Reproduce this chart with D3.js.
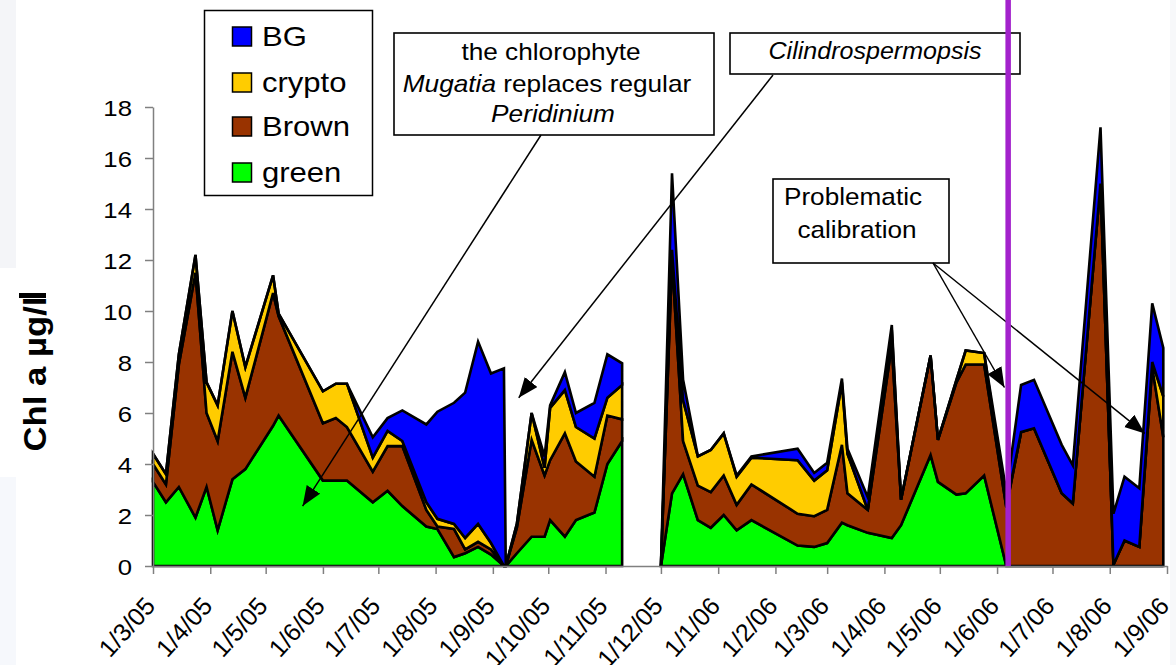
<!DOCTYPE html>
<html>
<head>
<meta charset="utf-8">
<script src="https://cdn.jsdelivr.net/npm/d3@7"></script>
<style>
  body { margin: 0; background: #fff; }
  svg { display: block; font-family: "Liberation Sans", Arial, sans-serif; }
</style>
</head>
<body>
<script>
'use strict';

// sample dates (d/m/y in the source sheet); "2005-11-20" is an unsampled gap
const sampleDates = [
  "2005-03-01", "2005-03-08", "2005-03-15", "2005-03-24", "2005-03-30", "2005-04-05",
  "2005-04-13", "2005-04-20", "2005-05-05", "2005-05-08", "2005-06-01", "2005-06-08",
  "2005-06-14", "2005-06-28", "2005-07-06", "2005-07-14", "2005-07-27", "2005-08-02",
  "2005-08-11", "2005-08-17", "2005-08-24", "2005-08-31", "2005-09-07", "2005-09-08",
  "2005-09-14", "2005-09-22", "2005-09-29", "2005-10-02", "2005-10-10", "2005-10-16",
  "2005-10-26", "2005-11-02", "2005-11-10", "2005-11-20", "2005-12-01", "2005-12-07",
  "2005-12-13", "2005-12-21", "2005-12-28", "2006-01-04", "2006-01-11", "2006-01-19",
  "2006-02-13", "2006-02-22", "2006-03-01", "2006-03-09", "2006-03-12", "2006-03-23",
  "2006-04-05", "2006-04-10", "2006-04-26", "2006-04-30", "2006-05-10", "2006-05-15",
  "2006-05-25", "2006-06-06", "2006-06-14", "2006-06-21", "2006-07-06", "2006-07-12",
  "2006-07-27", "2006-08-03", "2006-08-09", "2006-08-17", "2006-08-24", "2006-08-30"
];

// Chl a (ug/l) per algal group, null = no sample
const green = [
  3.3, 2.5, 3.1, 1.9, 3.1, 1.4, 3.4, 3.8, 5.5, 5.9, 3.35, 3.35,
  3.35, 2.5, 2.95, 2.35, 1.55, 1.45, 0.35, 0.5, 0.75, 0.45, 0, 0,
  0.5, 1.15, 1.15, 1.8, 1.15, 1.8, 2.1, 4.0, 4.9, null, 0, 2.85,
  3.6, 1.8, 1.5, 2.0, 1.4, 1.8, 0.8, 0.75, 0.9, 1.7, 1.6, 1.3,
  1.1, 1.6, 4.35, 3.3, 2.8, 2.85, 3.55, 0, 0, 0, 0, 0,
  0, 0, 0, 0, 0, 0
];
const brown = [
  0.7, 0.7, 4.8, 9.6, 2.9, 3.5, 5.0, 2.8, 5.2, 3.9, 2.25, 2.45,
  2.1, 1.2, 1.75, 2.35, 0.65, 0.1, 1.1, 0.15, 0.2, 0.2, 0, 0,
  1.0, 3.8, 2.4, 2.35, 4.05, 2.3, 1.4, 1.9, 0.85, null, 0, 9.15,
  1.3, 1.35, 1.4, 1.55, 1.0, 1.4, 1.25, 1.2, 1.3, 3.05, 1.25, 0.9,
  7.55, 1.0, 3.9, 1.65, 4.4, 5.05, 4.35, 2.3, 5.25, 5.4, 2.85, 2.45,
  15.0, 0.05, 1.0, 0.75, 7.8, 5.05
];
const crypto = [
  0.4, 0.4, 0.4, 0.7, 1.2, 1.4, 1.6, 1.2, 0.7, 0.1, 1.25, 1.35,
  1.7, 0.55, 0.6, 0.2, 0.3, 0.3, 0.2, 0.45, 0.7, 0.25, 0, 0,
  0.15, 1.05, 0.3, 2.05, 1.7, 1.35, 1.5, 0.7, 1.35, null, 0, 0.4,
  1.6, 1.15, 1.65, 1.65, 1.1, 1.05, 2.1, 1.4, 1.55, 2.45, 1.55, 0,
  0.6, 0, 0, 0, 0.1, 0.55, 0.45, 0.1, 0, 0, 0, 0,
  0, 0, 0, 0, 0.2, 1.6
];
const bgValues = [
  0, 0, 0, 0, 0, 0, 0, 0, 0, 0, 0, 0,
  0, 0.8, 0.5, 1.2, 3.05, 4.2, 4.75, 5.7, 7.15, 6.65, 7.75, 0,
  0, 0, 0.45, 0.1, 0.7, 0.55, 1.4, 1.7, 0.85, null, 0, 3.0,
  0.8, 0, 0, 0, 0.05, 0.05, 0.45, 0.3, 0.3, 0.15, 0.2, 0.5,
  0.2, 0, 0, 0, 0, 0, 0, 0.5, 1.85, 1.9, 1.9, 1.5,
  2.2, 2.0, 2.5, 2.3, 2.3, 1.9
];

const yTicks = [0, 2, 4, 6, 8, 10, 12, 14, 16, 18];
const legendNames = ["BG", "crypto", "Brown", "green"];
const noteMugatia = ["the chlorophyte", "Mugatia", " replaces regular", "Peridinium"];
const noteCilindro = "Cilindrospermopsis";
const noteCalib = ["Problematic", "calibration"];
const calibrationDate = "2006-06-07";

const colors = { green: "#00ff00", brown: "#993300", crypto: "#ffcc00", bg: "#0000ff" };

(function () {
  const parse = d3.timeParse("%Y-%m-%d");
  const rows = sampleDates.map((d, i) => ({
    date: parse(d),
    sampled: green[i] !== null,
    green: green[i] || 0, brown: brown[i] || 0, crypto: crypto[i] || 0, bg: bgValues[i] || 0
  }));

  const svg = d3.select("body").append("svg")
    .attr("width", 1176)
    .attr("height", 665);

  // faint slide background remnants
  svg.append("rect").attr("x", 0).attr("y", 0).attr("width", 16).attr("height", 268).attr("fill", "#f4f5f8");
  svg.append("rect").attr("x", 0).attr("y", 477).attr("width", 16).attr("height", 188).attr("fill", "#f6f8fc");
  svg.append("rect").attr("x", 1170).attr("y", 0).attr("width", 6).attr("height", 665).attr("fill", "#f7f8fa");
  svg.append("rect").attr("x", 19).attr("y", 293).attr("width", 27).attr("height", 5).attr("fill", "#000");

  const x = d3.scaleTime()
    .domain([parse("2005-03-01"), parse("2006-09-01")])
    .range([153, 1167]);
  const y = d3.scaleLinear()
    .domain([0, 18])
    .range([566, 107]);

  // stacked areas, broken where there was no sample
  const stack = d3.stack().keys(["green", "brown", "crypto", "bg"]);
  const layers = stack(rows);
  const area = d3.area()
    .defined(d => d.data.sampled)
    .x(d => x(d.data.date))
    .y0(d => y(d[0]))
    .y1(d => y(d[1]));

  svg.append("g").selectAll("path")
    .data(layers)
    .enter()
    .append("path")
    .attr("d", area)
    .attr("fill", d => colors[d.key])
    .attr("stroke", "#000")
    .attr("stroke-width", 2.6)
    .attr("stroke-linejoin", "miter");

  // y axis
  const yAxis = d3.axisLeft(y).tickValues(yTicks).tickSize(8).tickSizeOuter(0).tickFormat(d3.format("d"));
  const gy = svg.append("g").attr("transform", "translate(153,0)").call(yAxis);
  gy.attr("font-family", null).attr("font-size", null);
  gy.select(".domain").attr("stroke", "#808080").attr("stroke-width", 1.5);
  gy.selectAll(".tick line").attr("stroke", "#808080").attr("stroke-width", 1.5);
  gy.selectAll(".tick text")
    .attr("x", null).attr("dy", null)
    .attr("transform", "translate(-21,8) scale(1.12,1)")
    .attr("text-anchor", "end")
    .attr("font-size", 23)
    .attr("fill", "#000");

  // x axis, monthly ticks
  const months = d3.timeMonth.range(parse("2005-03-01"), parse("2006-09-02"));
  const xAxis = d3.axisBottom(x).tickValues(months).tickSize(8).tickSizeOuter(0)
    .tickFormat(d3.timeFormat("%-d/%-m/%y"));
  const gx = svg.append("g").attr("transform", "translate(0,566)").call(xAxis);
  gx.attr("font-family", null).attr("font-size", null);
  gx.select(".domain").attr("stroke", "#808080").attr("stroke-width", 1.5);
  gx.selectAll(".tick line").attr("stroke", "#808080").attr("stroke-width", 1.5);
  gx.selectAll(".tick text")
    .attr("y", null).attr("dy", null)
    .attr("transform", "translate(3,41) rotate(-48)")
    .attr("text-anchor", "end")
    .attr("font-size", 25)
    .attr("fill", "#000");

  // y label
  svg.append("text")
    .attr("transform", "translate(46,374) rotate(-90) scale(1.12,1)")
    .attr("text-anchor", "middle")
    .attr("font-size", 31)
    .attr("font-weight", "bold")
    .text("Chl a \u00b5g/l");

  // legend
  const legend = svg.append("g");
  legend.append("rect")
    .attr("x", 204.5).attr("y", 10.5).attr("width", 168).attr("height", 185)
    .attr("fill", "#fff").attr("stroke", "#000").attr("stroke-width", 1.5);
  const legendKeys = ["bg", "crypto", "brown", "green"];
  const legendTops = [27, 73, 117, 163];
  legendNames.forEach((name, i) => {
    legend.append("rect")
      .attr("x", 232.5).attr("y", legendTops[i]).attr("width", 19).attr("height", 19)
      .attr("fill", colors[legendKeys[i]]).attr("stroke", "#000").attr("stroke-width", 1.5);
    legend.append("text")
      .attr("transform", "translate(262," + (legendTops[i] + 19) + ") scale(1.15,1)")
      .attr("font-size", 27)
      .text(name);
  });

  // annotation boxes
  function box(x0, y0, w, h) {
    svg.append("rect")
      .attr("x", x0).attr("y", y0).attr("width", w).attr("height", h)
      .attr("fill", "#fff").attr("stroke", "#000").attr("stroke-width", 1.6);
  }
  function label(cx, by, size, sx, italic) {
    return svg.append("text")
      .attr("transform", "translate(" + cx + "," + by + ") scale(" + sx + ",1)")
      .attr("text-anchor", "middle")
      .attr("font-size", size)
      .attr("font-style", italic ? "italic" : null);
  }

  box(394, 33, 320, 102);
  label(551, 60, 23, 1.14, false).text(noteMugatia[0]);
  const l2 = label(547, 91.5, 23, 1.14, false);
  l2.append("tspan").attr("font-style", "italic").text(noteMugatia[1]);
  l2.append("tspan").text(noteMugatia[2]);
  label(553, 121.5, 23, 1.14, true).text(noteMugatia[3]);

  box(730, 33, 290, 41);
  label(875, 58.5, 23, 1.09, true).text(noteCilindro);

  box(773, 179, 176, 84);
  label(853, 205, 24, 1.09, false).text(noteCalib[0]);
  label(857, 238, 24, 1.09, false).text(noteCalib[1]);

  // arrows
  const defs = svg.append("defs");
  defs.append("marker")
    .attr("id", "head")
    .attr("markerUnits", "userSpaceOnUse")
    .attr("markerWidth", 24).attr("markerHeight", 20)
    .attr("refX", 20).attr("refY", 8)
    .attr("orient", "auto")
    .append("path")
    .attr("d", "M0,0 L20,8 L0,16 Z")
    .attr("fill", "#000");

  const arrows = [
    { from: [541, 135], to: ["2005-05-21", 2.35] },
    { from: [773, 75], to: ["2005-09-15", 6.6] },
    { from: [933, 263], to: ["2006-06-05", 7.0] },
    { from: [933, 263], to: ["2006-08-20", 5.2] }
  ];
  arrows.forEach(a => {
    svg.append("line")
      .attr("x1", a.from[0]).attr("y1", a.from[1])
      .attr("x2", x(parse(a.to[0]))).attr("y2", y(a.to[1]))
      .attr("stroke", "#000").attr("stroke-width", 1.5)
      .attr("marker-end", "url(#head)");
  });

  // calibration change marker
  svg.append("line")
    .attr("x1", x(parse(calibrationDate))).attr("x2", x(parse(calibrationDate)))
    .attr("y1", 0).attr("y2", y(0))
    .attr("stroke", "#a322cc").attr("stroke-width", 5.5);
})();
</script>
</body>
</html>
